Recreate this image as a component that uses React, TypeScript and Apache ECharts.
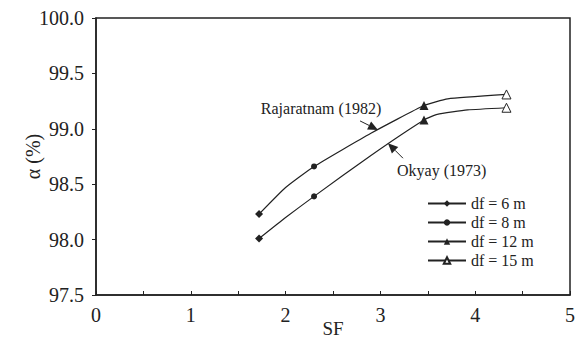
import React, { useEffect, useRef } from "react";
import * as echarts from "echarts";

// Curves (SF, alpha %)
const sfUpper = [1.72, 2.0, 2.3, 2.9, 3.46, 3.71, 4.33];
const alphaUpper = [98.23, 98.47, 98.66, 98.96, 99.21, 99.27, 99.31];
const sfLower = [1.72, 2.0, 2.3, 2.9, 3.46, 3.6, 3.92, 4.33];
const alphaLower = [98.01, 98.2, 98.39, 98.76, 99.08, 99.13, 99.17, 99.19];

// Marker series (one per df)
const dfLabels = ["df = 6 m", "df = 8 m", "df = 12 m", "df = 15 m"];
const dfSF = [1.72, 2.3, 3.46, 4.33];
const dfUpper = [98.23, 98.66, 99.21, 99.31];
const dfLower = [98.01, 98.39, 99.08, 99.19];
const dfSymbols = ["diamond", "circle", "triangle", "triangle"];
const dfSizes = [8, 6, 9, 9];
const dfFilled = [true, true, true, false];

// Axis ticks
const xTicks = [0, 1, 2, 3, 4, 5];
const yTicks = [97.5, 98.0, 98.5, 99.0, 99.5, 100.0];

// Annotations: label, arrow tip (data coords)
const annoLabels = ["Rajaratnam (1982)", "Okyay (1973)"];
const annoTipSF = [2.975, 3.08];
const annoTipAlpha = [98.99, 98.87];

const INK = "#222";
const FONT = "Liberation Serif";

export default function App() {
  const ref = useRef<HTMLDivElement>(null);
  useEffect(() => {
    if (!ref.current) return;
    const chart = echarts.init(ref.current, null, { renderer: "svg" });
    const curve = (name: string, xs: number[], ys: number[]) => ({
      name,
      type: "line",
      data: xs.map((x, i) => [x, ys[i]]),
      smooth: 0.15,
      showSymbol: false,
      symbol: "none",
      lineStyle: { color: INK, width: 1.2 },
      z: 2,
      silent: true,
    });
    const markerSeries = dfLabels.map((name, i) => ({
      name,
      type: "line",
      data: [
        [dfSF[i], dfUpper[i]],
        [dfSF[i], "-"],
        [dfSF[i], dfLower[i]],
      ],
      connectNulls: false,
      symbol: dfSymbols[i],
      symbolSize: dfSizes[i],
      showSymbol: true,
      lineStyle: { color: INK, width: 1.2 },
      itemStyle: dfFilled[i]
        ? { color: INK, borderColor: INK, borderWidth: 0 }
        : { color: "#fff", borderColor: INK, borderWidth: 1 },
      z: 3,
    }));
    chart.setOption({
      animation: false,
      backgroundColor: "#fff",
      textStyle: { fontFamily: FONT, color: INK },
      grid: {
        left: 96,
        right: 10,
        top: 18,
        bottom: 45,
        outerBoundsMode: "none",
        containLabel: false,
        show: true,
        borderColor: INK,
        borderWidth: 1.5,
        backgroundColor: "transparent",
      },
      legend: {
        data: dfLabels,
        orient: "vertical",
        left: 427,
        top: 195,
        padding: 0,
        itemWidth: 38,
        itemHeight: 8,
        itemGap: 2,
        textStyle: { fontFamily: FONT, fontSize: 16, color: INK, lineHeight: 17 },
      },
      xAxis: {
        type: "value",
        min: xTicks[0],
        max: xTicks[xTicks.length - 1],
        interval: 1,
        name: "SF",
        nameLocation: "middle",
        nameGap: 24,
        nameMoveOverlap: false,
        nameTextStyle: { fontFamily: FONT, fontSize: 19, color: INK },
        axisLine: { show: true, lineStyle: { color: INK, width: 1.5 } },
        axisTick: { show: true, inside: true, length: 4, lineStyle: { color: INK } },
        minorTick: { show: true, splitNumber: 2, length: 4, lineStyle: { color: INK } },
        axisLabel: { fontFamily: FONT, fontSize: 20, color: INK, margin: 10 },
        splitLine: { show: false },
      },
      yAxis: {
        type: "value",
        min: yTicks[0],
        max: yTicks[yTicks.length - 1],
        interval: 0.5,
        name: "α (%)",
        nameLocation: "middle",
        nameGap: 53,
        nameMoveOverlap: false,
        nameTextStyle: { fontFamily: FONT, fontSize: 20, color: INK },
        axisLine: { show: true, lineStyle: { color: INK, width: 1.5 } },
        axisTick: { show: true, inside: false, length: 4, lineStyle: { color: INK } },
        axisLabel: {
          fontFamily: FONT,
          fontSize: 20,
          color: INK,
          margin: 12,
          formatter: (v: number) => v.toFixed(1),
        },
        splitLine: { show: false },
      },
      series: [
        curve("Rajaratnam", sfUpper, alphaUpper),
        curve("Okyay", sfLower, alphaLower),
        ...markerSeries,
      ],
    });

    // Annotations with arrows, anchored in data coordinates
    const tailOffsets = [
      [-18, -9],
      [15, 15],
    ];
    const textPos = [
      { dx: -57, dy: -21, align: "center" },
      { dx: 9, dy: 27, align: "left" },
    ];
    const graphics: any[] = [];
    annoLabels.forEach((label, i) => {
      const tip = chart.convertToPixel({ gridIndex: 0 }, [annoTipSF[i], annoTipAlpha[i]]) as number[];
      const tail = [tip[0] + tailOffsets[i][0], tip[1] + tailOffsets[i][1]];
      const dx = tip[0] - tail[0];
      const dy = tip[1] - tail[1];
      const len = Math.hypot(dx, dy);
      const ux = dx / len;
      const uy = dy / len;
      const hl = 10;
      const hw = 4.5;
      const bx = tip[0] - ux * hl;
      const by = tip[1] - uy * hl;
      graphics.push({
        type: "line",
        shape: { x1: tail[0], y1: tail[1], x2: bx, y2: by },
        style: { stroke: INK, lineWidth: 1 },
        z: 10,
      });
      graphics.push({
        type: "polygon",
        shape: {
          points: [
            [tip[0], tip[1]],
            [bx - uy * hw, by + ux * hw],
            [bx + uy * hw, by - ux * hw],
          ],
        },
        style: { fill: INK },
        z: 10,
      });
      graphics.push({
        type: "text",
        x: tip[0] + textPos[i].dx,
        y: tip[1] + textPos[i].dy,
        style: {
          text: label,
          fontFamily: FONT,
          fontSize: 16,
          fill: INK,
          align: textPos[i].align,
          verticalAlign: "middle",
        },
        z: 10,
      });
    });
    chart.setOption({ graphic: graphics });

    return () => chart.dispose();
  }, []);
  return (
    <div
      ref={ref}
      style={{ position: "fixed", left: 0, top: 0, width: 580, height: 340 }}
    />
  );
}
